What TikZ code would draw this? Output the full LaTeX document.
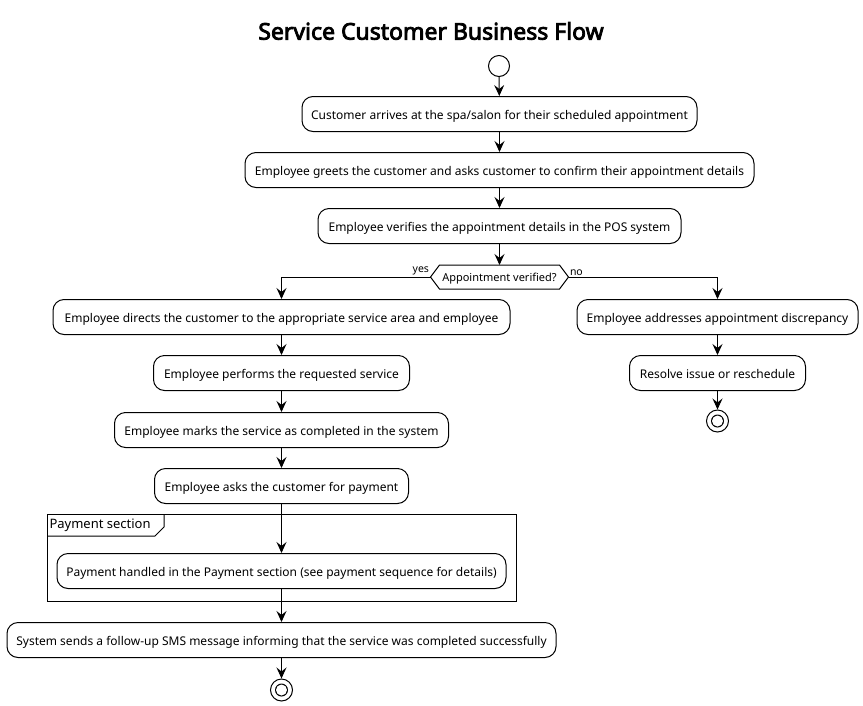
\documentclass[tikz,border=0pt]{standalone}
\usepackage{fontspec}
\setmainfont{Noto Sans}
\newfontfamily\titlefont{Noto Sans}[FakeBold=3.5]
\usetikzlibrary{arrows.meta,calc}
\begin{document}
\begin{tikzpicture}[x=1pt,y=-1pt,line width=1pt,
  act/.style={draw,rounded corners=11pt,minimum height=35pt,inner xsep=8pt,text height=11.5pt,text depth=1pt,font=\fontsize{12}{14}\selectfont},
  arr/.style={-{Stealth[length=11pt,width=10pt,inset=4pt]}},
  startnode/.style={circle,draw,minimum size=21pt,inner sep=0pt},
  endnode/.style={circle,draw,minimum size=22pt,inner sep=0pt,path picture={\fill (path picture bounding box.center) circle (6.5pt);\fill[white] (path picture bounding box.center) circle (5.5pt);}}]
\useasboundingbox (0,0) rectangle (863,705);
\node[font=\fontsize{23}{26}\titlefont] (title) at (431,31) {Service Customer Business Flow};
\node[startnode] (s) at (499,66) {};
\node[act,minimum width=395pt] (b1) at (499.5,114) {Customer arrives at the spa/salon for their scheduled appointment};
\node[act,minimum width=509pt] (b2) at (499.5,170) {Employee greets the customer and asks customer to confirm their appointment details};
\node[act,minimum width=363pt] (b3) at (499.5,226) {Employee verifies the appointment details in the POS system};
\node[minimum width=137pt,minimum height=23pt,inner sep=0pt,text height=9.5pt,text depth=1pt,font=\fontsize{11}{13}\selectfont] (dec) at (499.5,277) {Appointment verified?};
\draw ([xshift=9pt]dec.north west) -- ([xshift=-9pt]dec.north east) -- (dec.east) -- ([xshift=-9pt]dec.south east) -- ([xshift=9pt]dec.south west) -- (dec.west) -- cycle;
\node[act,minimum width=457pt] (b4) at (281.5,317) {Employee directs the customer to the appropriate service area and employee};
\node[act,minimum width=281pt] (r1) at (717.5,317) {Employee addresses appointment discrepancy};
\node[act,minimum width=256pt] (b5) at (281.5,373) {Employee performs the requested service};
\node[act,minimum width=176pt] (r2) at (717.5,373) {Resolve issue or reschedule};
\node[endnode] (e1) at (717.5,421) {};
\node[act,minimum width=334pt] (b6) at (281.5,430) {Employee marks the service as completed in the system};
\node[act,minimum width=254pt] (b7) at (281.5,486) {Employee asks the customer for payment};
\draw (47,514) rectangle (516,601);
\draw (47,536) -- (155,536) -- (164,527) -- (164,514);
\node[anchor=west,inner sep=0pt,font=\fontsize{13}{15}\selectfont] (ptitle) at (49,525) {Payment section};
\node[act,minimum width=449pt] (b8) at (281.5,571) {Payment handled in the Payment section (see payment sequence for details)};
\node[act,minimum width=549pt] (b9) at (281.5,640) {System sends a follow-up SMS message informing that the service was completed successfully};
\node[endnode] (e2) at (281.5,690) {};
\draw[arr] (s) -- (b1);
\draw[arr] (b1) -- (b2);
\draw[arr] (b2) -- (b3);
\draw[arr] (b3) -- (dec.north);
\draw[arr] (dec.west) -| (b4.north);
\draw[arr] (dec.east) -| (r1.north);
\node[anchor=south east,inner sep=1pt,font=\fontsize{10.5}{12}\selectfont] (yes) at (dec.west) {yes};
\node[anchor=south west,inner sep=1pt,font=\fontsize{10.5}{12}\selectfont] (no) at (dec.east) {no};
\draw[arr] (b4) -- (b5);
\draw[arr] (b5) -- (b6);
\draw[arr] (b6) -- (b7);
\draw[arr] (b7) -- (b8);
\draw[arr] (b8) -- (b9);
\draw[arr] (b9) -- (e2);
\draw[arr] (r1) -- (r2);
\draw[arr] (r2) -- (e1);
\end{tikzpicture}
\end{document}
